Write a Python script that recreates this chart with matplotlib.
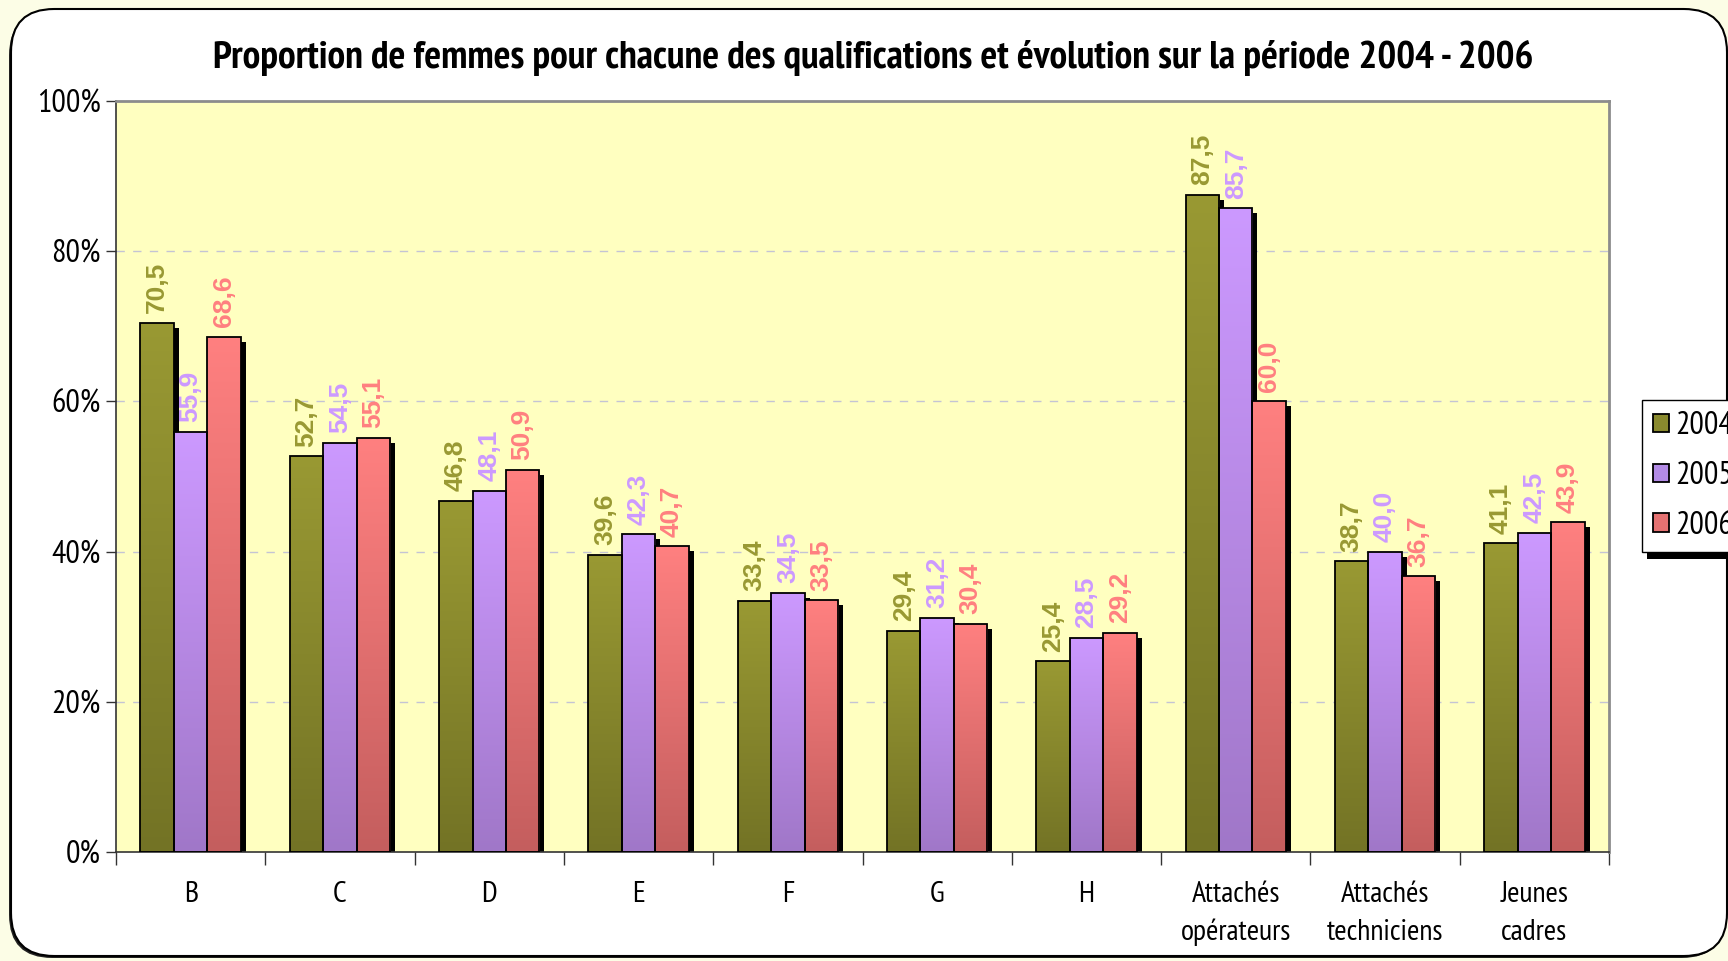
import matplotlib
matplotlib.use("Agg")
import matplotlib.pyplot as plt
import matplotlib.transforms as mtransforms
from matplotlib import font_manager
from matplotlib.patches import FancyBboxPatch, Rectangle, Patch
from matplotlib.colors import to_rgb
import numpy as np

# données
categories = ['B', 'C', 'D', 'E', 'F', 'G', 'H',
              'Attachés\nopérateurs', 'Attachés\ntechniciens', 'Jeunes\ncadres']
years = ['2004', '2005', '2006']
v2004 = [70.5, 52.7, 46.8, 39.6, 33.4, 29.4, 25.4, 87.5, 38.7, 41.1]
v2005 = [55.9, 54.5, 48.1, 42.3, 34.5, 31.2, 28.5, 85.7, 40.0, 42.5]
v2006 = [68.6, 55.1, 50.9, 40.7, 33.5, 30.4, 29.2, 60.0, 36.7, 43.9]
yticks = [0, 20, 40, 60, 80, 100]

series = [v2004, v2005, v2006]
top_colors = ['#999933', '#CC99FF', '#FF8080']
bot_colors = ['#737325', '#A077C8', '#C45E5E']
label_colors = ['#999933', '#CC99FF', '#FF8080']
legend_colors = ['#8A8A2E', '#B38BE6', '#E57272']

# police étroite (type Arial Narrow) avec une graisse bold si possible
def poids(f):
    w = f.weight
    if isinstance(w, str):
        w = font_manager.weight_dict.get(w, 400)
    return w

candidats = ['Liberation Sans Narrow', 'Arial Narrow', 'Nimbus Sans Narrow',
             'PT Sans Narrow', 'Archivo Narrow', 'Roboto Condensed', 'Open Sans Condensed']
ttf = font_manager.fontManager.ttflist
narrow = None
for nom in candidats:
    if any(f.name == nom and poids(f) >= 600 for f in ttf):
        narrow = nom
        break
if narrow is None:
    for nom in candidats:
        if any(f.name == nom for f in ttf):
            narrow = nom
            break
fams = ([narrow] if narrow else []) + ['Liberation Sans', 'DejaVu Sans']
plt.rcParams['font.family'] = fams

W, H = 1728, 961
fig = plt.figure(figsize=(W / 100, H / 100), dpi=100, facecolor='#FCFDE6')

# cadre arrondi blanc
shadow_box = FancyBboxPatch((9 / W, 3 / H), 1716 / W, 946 / H,
                            boxstyle="round,pad=0,rounding_size=0.025",
                            transform=fig.transFigure, facecolor='#222222',
                            edgecolor='none', zorder=-2)
box = FancyBboxPatch((11 / W, 5 / H), 1716 / W, 947 / H,
                     boxstyle="round,pad=0,rounding_size=0.025",
                     transform=fig.transFigure, facecolor='white',
                     edgecolor='black', linewidth=1.5, zorder=-1)
box.set_mutation_aspect(W / H)
shadow_box.set_mutation_aspect(W / H)
fig.patches.append(shadow_box)
fig.patches.append(box)

ax = fig.add_axes([116 / W, 1 - 852 / H, (1609 - 116) / W, (852 - 101) / H])
ax.set_zorder(1)
ax.set_facecolor('#FFFFC0')

x = np.arange(len(categories))
bw = 0.224
offsets = [-bw, 0, bw]

shadow_tr = mtransforms.offset_copy(ax.transData, fig=fig, x=5, y=-5, units='dots')

grad = np.linspace(0, 1, 256).reshape(-1, 1)
for k, vals in enumerate(series):
    xs = x + offsets[k]
    ax.bar(xs, vals, bw, color='black', transform=shadow_tr, zorder=1.5)
    bars = ax.bar(xs, vals, bw, facecolor='none', edgecolor='black',
                  linewidth=1.3, zorder=3)
    c0 = np.array(to_rgb(bot_colors[k]))
    c1 = np.array(to_rgb(top_colors[k]))
    img = (c0[None, None, :] * (1 - grad[:, :, None]) + c1[None, None, :] * grad[:, :, None])
    for b, v, xi in zip(bars, vals, xs):
        im = ax.imshow(img, extent=(xi - bw / 2, xi + bw / 2, 0, v), origin='lower',
                       aspect='auto', interpolation='bilinear', zorder=2)
        im.set_clip_path(b)
        ax.annotate(f"{v:.1f}".replace('.', ','), (xi, v), xytext=(0, 7),
                    textcoords='offset points', rotation=90, ha='center', va='bottom',
                    fontsize=19, fontweight='bold', color=label_colors[k],
                    family=['Liberation Sans', 'DejaVu Sans'], zorder=4)

ax.set_xlim(-0.5, len(categories) - 0.5)
ax.set_ylim(0, 100)
ax.set_yticks(yticks)
ax.set_yticklabels([f"{t}%" for t in yticks], fontsize=23)
ax.set_xticks(x)
ax.set_xticklabels(categories, fontsize=21.5, linespacing=1.5)
ax.set_xticks(np.arange(len(categories) + 1) - 0.5, minor=True)
ax.tick_params(axis='x', which='major', length=0, pad=21)
ax.tick_params(axis='x', which='minor', length=9, width=1, color='#333333')
ax.tick_params(axis='y', length=7, width=1, color='#333333', pad=4)

for yy in yticks[1:-1]:
    ax.axhline(yy, color='#C4C4D4', linewidth=1, linestyle=(0, (6, 6)), zorder=1)

ax.spines['left'].set_color('#333333')
ax.spines['bottom'].set_color('#333333')
ax.spines['left'].set_linewidth(1.2)
ax.spines['bottom'].set_linewidth(1.2)
for s in ['top', 'right']:
    ax.spines[s].set_color('#8C8C8C')
    ax.spines[s].set_linewidth(2)

titre = fig.text(873 / W, 1 - 58 / H,
                 "Proportion de femmes pour chacune des qualifications et évolution sur la période 2004 - 2006",
                 ha='center', va='center', fontsize=26, fontweight='bold')

handles = [Patch(facecolor=c, edgecolor='black', linewidth=1.3) for c in legend_colors]
leg = fig.legend(handles, years, loc='upper left', bbox_to_anchor=(1642 / W, 1 - 400 / H),
                 bbox_transform=fig.transFigure, frameon=True, fancybox=False,
                 edgecolor='black', borderaxespad=0, fontsize=23, handlelength=0.5,
                 handleheight=0.5, handletextpad=0.2, labelspacing=0.62,
                 borderpad=0.35, framealpha=1)
leg.get_frame().set_linewidth(1)
leg.set_zorder(5)

# ajuster la taille du titre à la largeur visée (~1317 px)
fig.canvas.draw()
r = fig.canvas.get_renderer()
w = titre.get_window_extent(r).width
titre.set_fontsize(26 * 1317 / w)

fig.canvas.draw()
bb = leg.get_window_extent()
fig.patches.append(Rectangle((bb.x0 + 5, bb.y0 - 7), bb.width, bb.height,
                             transform=None, facecolor='black', edgecolor='none', zorder=4))

fig.savefig('out.png', dpi=100, facecolor=fig.get_facecolor())
